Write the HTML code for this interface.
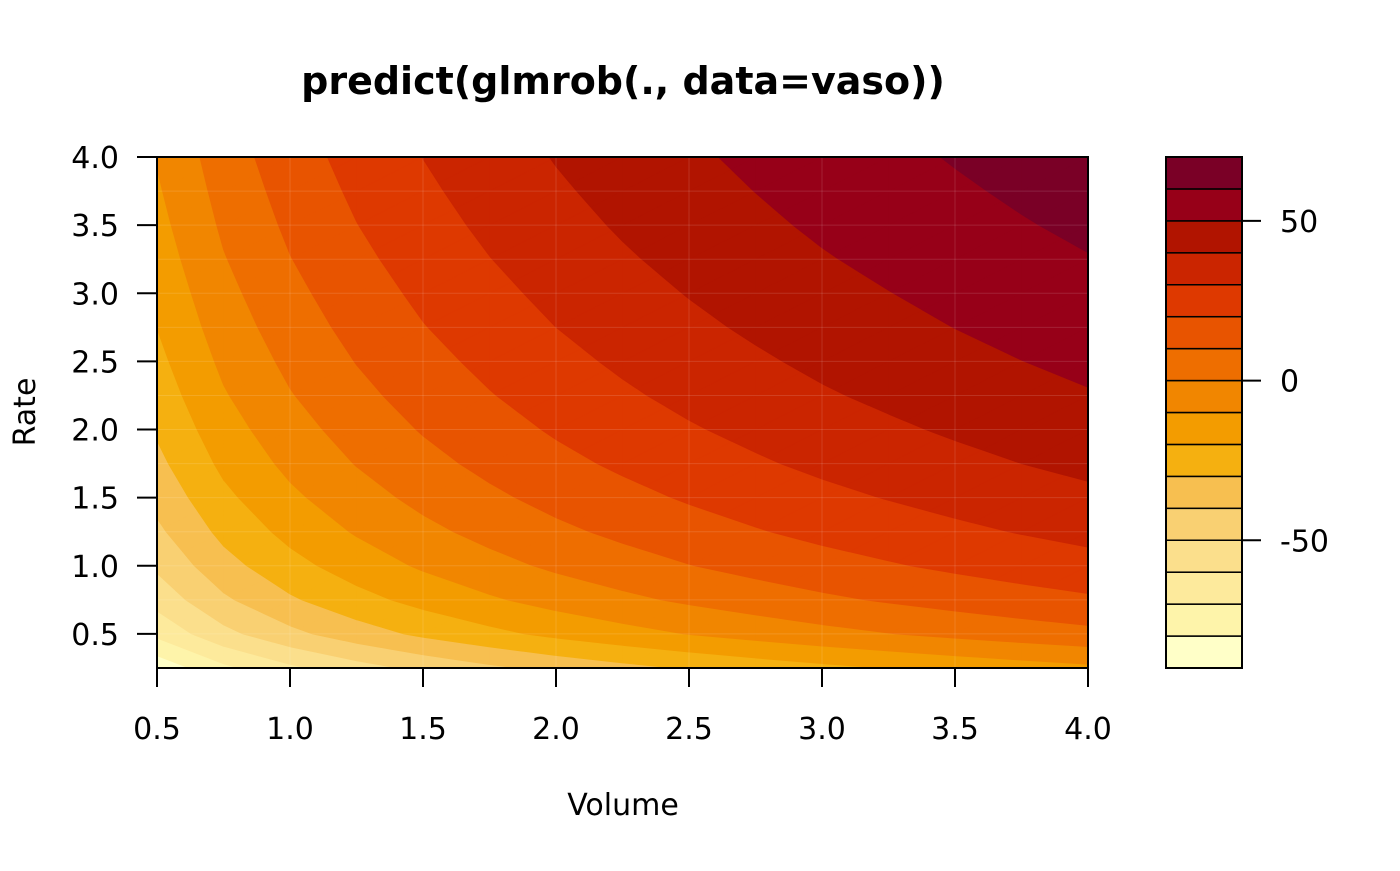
<!DOCTYPE html>
<html><head><meta charset="utf-8"><style>
html,body{margin:0;padding:0;background:#fff;}
svg text{font-family:"DejaVu Sans","Liberation Sans",sans-serif;}
</style></head><body>
<svg id="chart" width="1400" height="866" viewBox="0 0 1400 866">
<text x="623" y="94" font-size="38" font-weight="bold" text-anchor="middle">predict(glmrob(., data=vaso))</text>
<text x="623" y="815" font-size="30" text-anchor="middle">Volume</text>
<text x="0" y="0" font-size="30" text-anchor="middle" transform="translate(35,412) rotate(-90)">Rate</text>
<g id="plot"></g>
<g id="axes"></g>
<g id="legend"></g>
</svg>
<script>
const volumes = [0.5,0.75,1.0,1.25,1.5,1.75,2.0,2.25,2.5,2.75,3.0,3.25,3.5,3.75,4.0];
const volEffect = [-9.4,5.2,15.5,23.5,30.1,35.6,40.5,44.7,48.5,51.9,55.1,57.9,60.6,63.1,65.4];
const rates = [0.25,0.5,0.75,1.0,1.25,1.5,1.75,2.0,2.25,2.5,2.75,3.0,3.25,3.5,3.75,4.0];
const rateEffect = [-77.6,-58.2,-46.9,-38.8,-32.6,-27.5,-23.1,-19.4,-16.1,-13.2,-10.5,-8.1,-5.8,-3.7,-1.8,0];
const levels = [-90,-80,-70,-60,-50,-40,-30,-20,-10,0,10,20,30,40,50,60,70];
const bandColors = ["#FFFFC8","#FEF4AA","#FDEA9C","#FBDF8C","#F9D072","#F7BF50","#F5B010","#F39C00","#F18600","#EE6E00","#E85400","#DE3900","#CB2500","#B11400","#970018","#7A0026"];
const xTicks = [0.5,1.0,1.5,2.0,2.5,3.0,3.5,4.0];
const yTicks = [0.5,1.0,1.5,2.0,2.5,3.0,3.5,4.0];
const keyTicks = [-50,0,50];

const NS="http://www.w3.org/2000/svg";
const X0=157,X1=1088,Y0=668,Y1=157;
const xs=v=>X0+(v-0.5)/(4-0.5)*(X1-X0);
const ys=r=>Y0-(r-0.25)/(4-0.25)*(Y0-Y1);
const K0=1166,K1=1242;
const ks=z=>Y0-(z-levels[0])/(levels[levels.length-1]-levels[0])*(Y0-Y1);
function mk(tag,attrs,parent){const e=document.createElementNS(NS,tag);for(const k in attrs)e.setAttribute(k,attrs[k]);parent.appendChild(e);return e;}

const plot=document.getElementById('plot');
function clip(poly,lev,keepAbove){
  const out=[];
  for(let i=0;i<poly.length;i++){
    const a=poly[i],b=poly[(i+1)%poly.length];
    const ina=keepAbove?a[2]>=lev:a[2]<=lev, inb=keepAbove?b[2]>=lev:b[2]<=lev;
    if(ina)out.push(a);
    if(ina!==inb){const t=(lev-a[2])/(b[2]-a[2]);out.push([a[0]+t*(b[0]-a[0]),a[1]+t*(b[1]-a[1]),lev]);}
  }
  return out;
}
const bandPaths=bandColors.map(()=>[]);
for(let i=0;i<volumes.length-1;i++){
  for(let j=0;j<rates.length-1;j++){
    const p=(a,b)=>[xs(volumes[a]),ys(rates[b]),volEffect[a]+rateEffect[b]];
    const c00=p(i,j),c10=p(i+1,j),c11=p(i+1,j+1),c01=p(i,j+1);
    for(const tri of [[c00,c10,c11],[c00,c11,c01]]){
      for(let k=0;k<bandColors.length;k++){
        let poly=clip(tri,levels[k],true);
        if(poly.length<3)continue;
        poly=clip(poly,levels[k+1],false);
        if(poly.length<3)continue;
        bandPaths[k].push('M'+poly.map(q=>q[0].toFixed(2)+','+q[1].toFixed(2)).join('L')+'Z');
      }
    }
  }
}
bandPaths.forEach((d,k)=>{
  if(!d.length)return;
  const el=mk('path',{d:d.join(''),fill:bandColors[k],stroke:bandColors[k],'stroke-width':0.8},plot);
  
  
});
for(const r of rates.slice(1,-1)){
  const el=mk('line',{x1:X0,x2:X1,y1:ys(r),y2:ys(r),stroke:'#fff','stroke-opacity':0.13,'stroke-width':1},plot);
  
  
}
for(const v of xTicks.slice(1,-1)){
  const el=mk('line',{x1:xs(v),x2:xs(v),y1:Y0,y2:Y1,stroke:'#fff','stroke-opacity':0.13,'stroke-width':1},plot);
  
  
}

const axes=document.getElementById('axes');
const box=mk('rect',{x:X0,y:Y1,width:X1-X0,height:Y0-Y1,fill:'none',stroke:'#000','stroke-width':2},axes);


xTicks.forEach(v=>{
  const t=mk('line',{x1:xs(v),x2:xs(v),y1:Y0,y2:Y0+19,stroke:'#000','stroke-width':2},axes);
  
  
  const l=mk('text',{x:xs(v),y:739,'font-size':30,'text-anchor':'middle'},axes);
  l.textContent=v.toFixed(1);
  
  
});
yTicks.forEach(r=>{
  const t=mk('line',{x1:X0-20,x2:X0,y1:ys(r),y2:ys(r),stroke:'#000','stroke-width':2},axes);
  
  
  const l=mk('text',{x:119,y:ys(r)+11,'font-size':30,'text-anchor':'end'},axes);
  l.textContent=r.toFixed(1);
  
  
});

const legend=document.getElementById('legend');
bandColors.forEach((c,k)=>{
  const y1=ks(levels[k+1]),y0=ks(levels[k]);
  const r=mk('rect',{x:K0,y:y1,width:K1-K0,height:y0-y1,fill:c,stroke:'#000','stroke-width':1.5},legend);
  
  
});
const kb=mk('rect',{x:K0,y:Y1,width:K1-K0,height:Y0-Y1,fill:'none',stroke:'#000','stroke-width':2},legend);


keyTicks.forEach(z=>{
  const t=mk('line',{x1:K1,x2:K1+19,y1:ks(z),y2:ks(z),stroke:'#000','stroke-width':2},legend);
  
  
  const l=mk('text',{x:1280,y:ks(z)+11,'font-size':30},legend);
  l.textContent=String(z);
  
  
});
</script>
</body></html>
